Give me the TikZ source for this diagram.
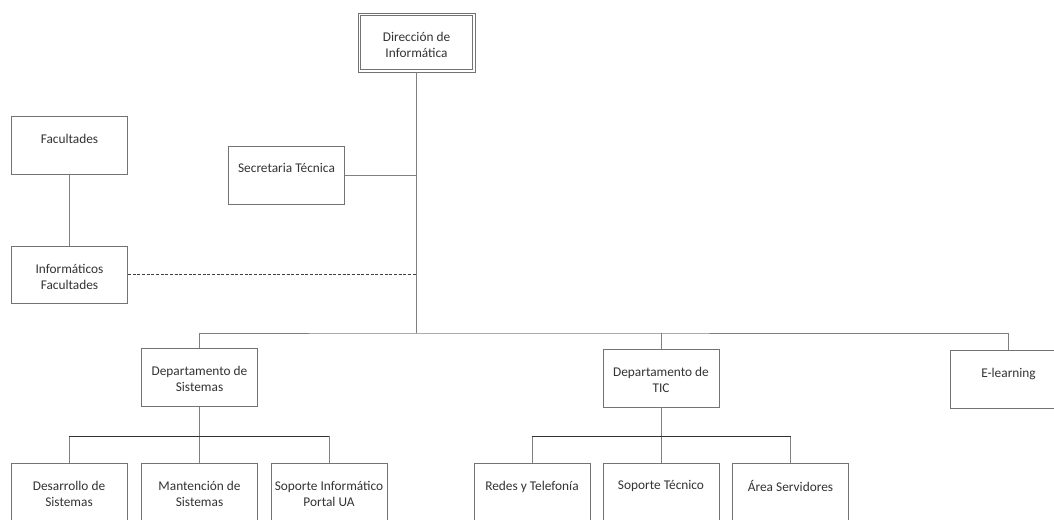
\documentclass[tikz,border=0pt]{standalone}
\usepackage{fontspec}
\setmainfont{Carlito}
\usetikzlibrary{calc}
\begin{document}
\begin{tikzpicture}[x=0.75pt,y=-0.75pt,
  box/.style={draw=black!55, line width=0.7pt, minimum width=87pt, minimum height=43.5pt, inner sep=0pt},
  lbl/.style={anchor=north, inner sep=0pt, align=center, font=\fontsize{10}{12}\selectfont, text=black!80},
  link/.style={draw=black!50, line width=0.7pt},
  bus/.style={draw=black!80, line width=0.7pt},
  dashlink/.style={draw=black!75, line width=0.8pt, dash pattern=on 2.2pt off 1.3pt}]
\fill[white] (0,0) rectangle (1054,519);
\useasboundingbox (0,0) rectangle (1054,519);
\clip (0,0) rectangle (1054,519);

% boxes
\node[box, minimum width=87.75pt, minimum height=44.25pt] (dir) at (416.5,42.5) {};
\draw[black!55, line width=0.6pt] ($(dir.north west)+(3,3)$) rectangle ($(dir.south east)+(-3,-3)$);
\node[box] (fac) at (69.5,145.5) {};
\node[box, minimum height=42.75pt] (inf) at (69.5,274.5) {};
\node[box] (sec) at (286.5,175) {};
\node[box] (dsis) at (199.5,377.5) {};
\node[box] (dtic) at (661,378) {};
\node[box] (elearn) at (1008.5,379) {};
\node[box] (des) at (69,492) {};
\node[box] (man) at (199.5,492) {};
\node[box] (sop) at (329,492) {};
\node[box] (red) at (532,492) {};
\node[box] (stec) at (661,492) {};
\node[box] (area) at (790.5,492) {};

% labels
\node[lbl] (tdir) at ($(dir.north)+(0,19)$) {Dirección de\\Informática};
\node[lbl] (tfac) at ($(fac.north)+(0,18)$) {Facultades};
\node[lbl] (tinf) at ($(inf.north)+(0,18)$) {Informáticos\\Facultades};
\node[lbl] (tsec) at ($(sec.north)+(0,18)$) {Secretaria Técnica};
\node[lbl] (tdsis) at ($(dsis.north)+(0,18)$) {Departamento de\\Sistemas};
\node[lbl] (tdtic) at ($(dtic.north)+(0,18)$) {Departamento de\\TIC};
\node[lbl] (tel) at ($(elearn.north)+(0,18)$) {E-learning};
\node[lbl] (tdes) at ($(des.north)+(0,18)$) {Desarrollo de\\Sistemas};
\node[lbl] (tman) at ($(man.north)+(0,18)$) {Mantención de\\Sistemas};
\node[lbl] (tsop) at ($(sop.north)+(0,18)$) {Soporte Informático\\Portal UA};
\node[lbl] (tred) at ($(red.north)+(0,18)$) {Redes y Telefonía};
\node[lbl] (tstec) at ($(stec.north)+(0,18)$) {Soporte Técnico};
\node[lbl] (tarea) at ($(area.north)+(0,18)$) {Área Servidores};

% coordinates for buses
\coordinate (busy) at (0,333);
\coordinate (hub) at (dir.south |- busy);
\coordinate (sbusy) at (0,436);

% connectors
\draw[link] (dir.south) -- (hub);
\draw[link] (sec.east) -- (sec.east -| hub);
\draw[dashlink] (inf.east) -- (inf.east -| hub);
\draw[link] (fac.south) -- (inf.north);
\draw[link] (dsis.north) |- (hub) -| (elearn.north);
\draw[link] (dtic.north) -- (dtic.north |- hub);

% Departamento de Sistemas children
\draw[link] (dsis.south) -- (man.north);
\draw[link] (des.north) -- (des.north |- sbusy);
\draw[link] (sop.north) -- (sop.north |- sbusy);
\draw[bus] (des.north |- sbusy) -- (sop.north |- sbusy);

% Departamento de TIC children
\draw[link] (dtic.south) -- (stec.north);
\draw[link] (red.north) -- (red.north |- sbusy);
\draw[link] (area.north) -- (area.north |- sbusy);
\draw[bus] (red.north |- sbusy) -- (area.north |- sbusy);
\end{tikzpicture}
\end{document}
